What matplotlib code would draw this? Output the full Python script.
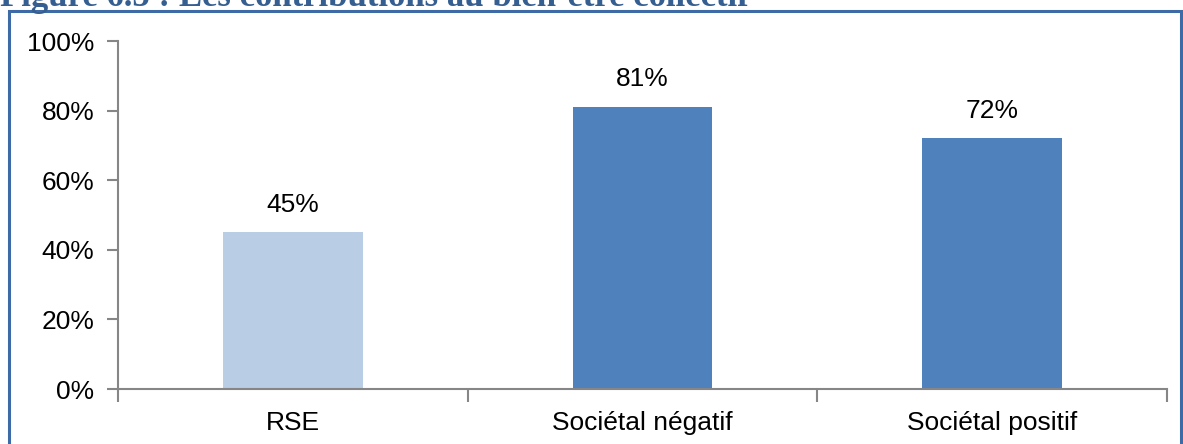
import matplotlib
matplotlib.use('Agg')
import matplotlib.pyplot as plt
from matplotlib.patches import Rectangle
from matplotlib.ticker import FuncFormatter

# Data
categories = ['RSE', 'Sociétal négatif', 'Sociétal positif']
values = [0.45, 0.81, 0.72]
bar_colors = ['#B9CDE5', '#4F81BD', '#4F81BD']
title = 'Figure 6.5 : Les contributions au bien-être collectif'

plt.rcParams['font.family'] = ['Liberation Sans', 'DejaVu Sans']

fig = plt.figure(figsize=(11.83, 4.44), dpi=100)
ax = fig.add_axes([118 / 1183, 55 / 444, 1049 / 1183, 348 / 444])

x = range(len(categories))
bars = ax.bar(x, values, width=0.4, color=bar_colors, zorder=2)

for xi, v in zip(x, values):
    ax.text(xi, v + 0.045, f'{v:.0%}', ha='center', va='bottom', fontsize=19)

ax.set_xlim(-0.5, len(categories) - 0.5)
ax.set_ylim(0, 1)
ax.set_yticks([0, 0.2, 0.4, 0.6, 0.8, 1.0])
ax.yaxis.set_major_formatter(FuncFormatter(lambda v, p: f'{v:.0%}'))

# x ticks at category boundaries, labels centered
ax.set_xticks([-0.5, 0.5, 1.5, 2.5])
ax.set_xticklabels([])
ax.set_xticks(list(x), minor=True)
ax.set_xticklabels(categories, minor=True, fontsize=19)
ax.tick_params(axis='x', which='minor', length=0, pad=16)
ax.tick_params(axis='x', which='major', length=9, width=1.5, color='#868686', direction='out')
ax.tick_params(axis='y', length=8, width=1.5, color='#868686', labelsize=19, pad=9)

for s in ['top', 'right']:
    ax.spines[s].set_visible(False)
for s in ['left', 'bottom']:
    ax.spines[s].set_color('#868686')
    ax.spines[s].set_linewidth(1.5)

# outer frame
fig.patches.append(Rectangle((9 / 1183, -0.2), 1172 / 1183, 1.2 - 11 / 444,
                             transform=fig.transFigure, fill=False,
                             edgecolor='#3E6BA5', linewidth=2.2, clip_on=False))

# title sits partly above the picture, as in the original crop
fig.text(0.0, 1 - 6 / 444, title, ha='left', va='baseline', fontsize=25,
         fontweight='bold', color='#365F91', family=['Liberation Serif', 'DejaVu Serif'])

fig.savefig('out.png', dpi=100)
